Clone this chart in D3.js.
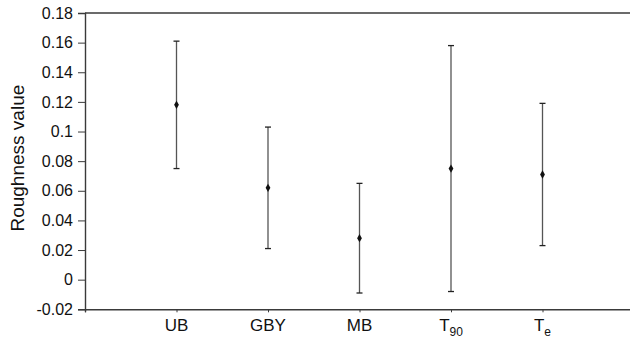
<!DOCTYPE html>
<html>
<head>
<meta charset="utf-8">
<script src="https://cdn.jsdelivr.net/npm/d3@7"></script>
<style>
  body { margin: 0; background: #fff; }
  svg { display: block; font-family: "Liberation Sans", Arial, sans-serif; }
</style>
</head>
<body>
<div id="chart"></div>
<script>
// groups on the x axis (sub = subscript part)
const groups = [
  { main: "UB", sub: "" },
  { main: "GBY", sub: "" },
  { main: "MB", sub: "" },
  { main: "T", sub: "90" },
  { main: "T", sub: "e" }
]
const means = [0.118, 0.062, 0.028, 0.075, 0.071]
const lower = [0.075, 0.021, -0.009, -0.008, 0.023]
const upper = [0.161, 0.103, 0.065, 0.158, 0.119]
const yTicks = [-0.02, 0, 0.02, 0.04, 0.06, 0.08, 0.1, 0.12, 0.14, 0.16, 0.18]

const width = 630, height = 339
const margin = { top: 13, right: 0, bottom: 30, left: 85 }

const svg = d3.select("#chart").append("svg")
  .attr("width", width)
  .attr("height", height)

// x runs one slot past the last group, so the axis leaves the frame on the right
const x = d3.scaleLinear().domain([0, 6]).range([margin.left, margin.left + 6 * 91.5])
const y = d3.scaleLinear().domain([-0.02, 0.18]).range([height - margin.bottom + 0.3, margin.top])

const axisColor = "#3a3a3a"

// top frame line
svg.append("line")
  .attr("x1", margin.left).attr("x2", width)
  .attr("y1", y(0.18)).attr("y2", y(0.18))
  .attr("stroke", axisColor).attr("stroke-width", 1.4)

// y axis
const yAxis = svg.append("g")
  .attr("transform", `translate(${margin.left},0)`)
  .call(d3.axisLeft(y).tickValues(yTicks).tickSize(7).tickPadding(5)
    .tickFormat(d => String(+d.toFixed(2))))
yAxis.select(".domain").attr("stroke", axisColor).attr("stroke-width", 1.4)
yAxis.selectAll(".tick line").attr("stroke", axisColor).attr("stroke-width", 1)
yAxis.selectAll("text").attr("font-size", 16).attr("fill", "#111")

// x axis
const xAxis = svg.append("g")
  .attr("transform", `translate(0,${y(-0.02)})`)
  .call(d3.axisBottom(x).tickValues([0, 1, 2, 3, 4, 5, 6]).tickSize(3).tickFormat(""))
xAxis.select(".domain").attr("stroke", axisColor).attr("stroke-width", 1.4)
xAxis.selectAll(".tick line").attr("stroke", axisColor).attr("stroke-width", 1)

const labels = svg.append("g").selectAll("text")
  .data(groups)
  .join("text")
  .attr("x", (d, i) => x(i + 1))
  .attr("y", y(-0.02) + 22)
  .attr("text-anchor", "middle")
  .attr("font-size", 17)
  .attr("fill", "#111")
labels.append("tspan").text(d => d.main)
labels.filter(d => d.sub).append("tspan")
  .attr("font-size", 12)
  .attr("dy", 5)
  .text(d => d.sub)

// y title
svg.append("text")
  .attr("transform", `translate(24,${(y(-0.02) + y(0.18)) / 2 - 3}) rotate(-90)`)
  .attr("text-anchor", "middle")
  .attr("font-size", 19)
  .attr("fill", "#111")
  .text("Roughness value")

// error bars
const bars = svg.append("g").selectAll("g")
  .data(means)
  .join("g")

bars.append("line")
  .attr("x1", (d, i) => x(i + 1)).attr("x2", (d, i) => x(i + 1))
  .attr("y1", (d, i) => y(upper[i])).attr("y2", (d, i) => y(lower[i]))
  .attr("stroke", "#555").attr("stroke-width", 1.3)

bars.append("line")
  .attr("x1", (d, i) => x(i + 1) - 3).attr("x2", (d, i) => x(i + 1) + 3)
  .attr("y1", (d, i) => y(upper[i])).attr("y2", (d, i) => y(upper[i]))
  .attr("stroke", "#222").attr("stroke-width", 1.3)

bars.append("line")
  .attr("x1", (d, i) => x(i + 1) - 3).attr("x2", (d, i) => x(i + 1) + 3)
  .attr("y1", (d, i) => y(lower[i])).attr("y2", (d, i) => y(lower[i]))
  .attr("stroke", "#222").attr("stroke-width", 1.3)

// mean markers
bars.append("path")
  .attr("transform", (d, i) => `translate(${x(i + 1)},${y(d)})`)
  .attr("d", d3.symbol(d3.symbolDiamond, 20))
  .attr("fill", "#111")
</script>
</body>
</html>
